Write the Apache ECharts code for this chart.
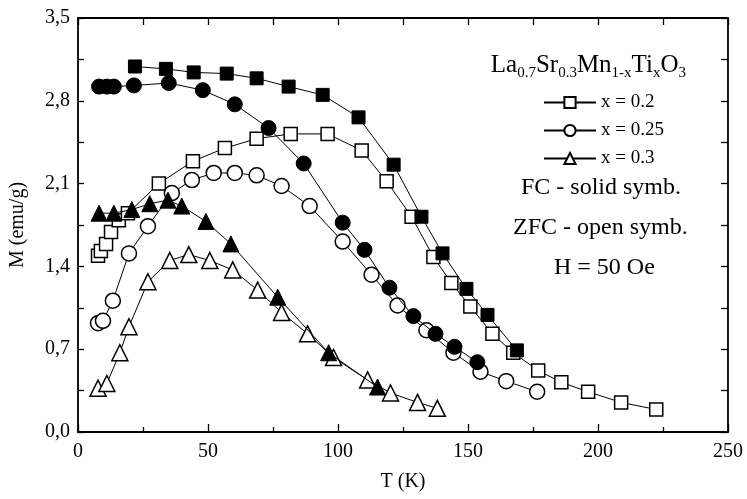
<!DOCTYPE html>
<html>
<head>
<meta charset="utf-8">
<script src="https://cdn.jsdelivr.net/npm/echarts@6/dist/echarts.min.js"></script>
<style>
  html, body { margin: 0; padding: 0; background: #fff; }
  #chart { width: 747px; height: 499px; }
</style>
</head>
<body>
<div id="chart"></div>
<script>
// Magnetization M(T) of La0.7Sr0.3Mn1-xTixO3, field-cooled and zero-field-cooled

// x = 0.2, field cooled (solid squares)
const fc02T = [21.9, 33.8, 44.5, 57.2, 68.7, 81.0, 94.1, 107.9, 121.4, 132.1, 140.2, 149.4, 157.5, 168.8];
const fc02M = [3.09, 3.07, 3.04, 3.03, 2.99, 2.92, 2.85, 2.66, 2.26, 1.82, 1.51, 1.21, 0.99, 0.69];
// x = 0.2, zero-field cooled (open squares)
const zfc02T = [7.7, 8.8, 10.8, 12.7, 15.7, 19.2, 31.1, 44.2, 56.5, 68.7, 81.8, 96.0, 109.1, 118.7, 128.3, 136.7, 143.6, 150.9, 159.4, 167.4, 177.0, 185.9, 196.2, 208.9, 222.4];
const zfc02M = [1.49, 1.53, 1.59, 1.69, 1.79, 1.85, 2.10, 2.29, 2.40, 2.48, 2.52, 2.52, 2.38, 2.12, 1.82, 1.48, 1.26, 1.06, 0.83, 0.67, 0.52, 0.42, 0.34, 0.25, 0.19];

// x = 0.25, field cooled (solid circles)
const fc025T = [8.1, 11.1, 13.8, 21.5, 34.9, 48.0, 60.3, 73.3, 86.8, 101.8, 110.2, 119.8, 129.0, 137.5, 144.8, 153.6];
const fc025M = [2.92, 2.92, 2.92, 2.93, 2.95, 2.89, 2.77, 2.57, 2.27, 1.77, 1.54, 1.22, 0.98, 0.83, 0.72, 0.59];
// x = 0.25, zero-field cooled (open circles)
const zfc025T = [7.7, 9.6, 13.4, 19.6, 26.9, 36.1, 43.8, 52.2, 60.3, 68.7, 78.3, 89.1, 101.8, 112.9, 122.9, 134.0, 144.4, 154.8, 164.7, 176.6];
const zfc025M = [0.92, 0.94, 1.11, 1.51, 1.74, 2.02, 2.13, 2.19, 2.19, 2.17, 2.08, 1.91, 1.61, 1.33, 1.07, 0.86, 0.67, 0.51, 0.43, 0.34];

// x = 0.3, field cooled (solid triangles)
const fc03T = [8.1, 13.8, 20.7, 27.6, 34.6, 39.9, 49.2, 58.8, 76.8, 96.4, 115.2];
const fc03M = [1.85, 1.85, 1.88, 1.93, 1.96, 1.91, 1.78, 1.59, 1.14, 0.67, 0.38];
// x = 0.3, zero-field cooled (open triangles)
const zfc03T = [7.7, 11.1, 16.1, 19.6, 26.9, 35.3, 42.6, 50.7, 59.5, 69.1, 78.3, 88.3, 98.3, 111.4, 120.2, 130.6, 138.2];
const zfc03M = [0.37, 0.41, 0.67, 0.89, 1.27, 1.45, 1.50, 1.45, 1.37, 1.20, 1.01, 0.83, 0.63, 0.44, 0.33, 0.25, 0.20];

// axis ranges
const tMin = 0, tMax = 250, tStep = 50;
const mMin = 0, mMax = 3.5, mStep = 0.7;

const zip = (xs, ys) => xs.map((x, i) => [x, ys[i]]);

const FONT = 'Liberation Serif';
const INK = '#000';

function curve(name, T, M, shape, filled, size) {
  return {
    name: name,
    type: 'line',
    data: zip(T, M),
    symbol: shape,
    symbolSize: size,
    showSymbol: true,
    lineStyle: { color: INK, width: 1 },
    itemStyle: filled
      ? { color: INK, borderColor: INK, borderWidth: 1 }
      : { color: '#fff', borderColor: INK, borderWidth: 1.5 },
    emphasis: { disabled: true },
    z: filled ? 3 : 2
  };
}

const commaFmt = v => (Math.round(v * 10) / 10).toFixed(1).replace('.', ',');

const axisLine = { show: true, onZero: false, lineStyle: { color: INK, width: 1.8 } };

const chart = echarts.init(document.getElementById('chart'), null, { renderer: 'canvas' });

chart.setOption({
  animation: false,
  backgroundColor: '#fff',
  grid: { left: 77, right: 19, top: 18, bottom: 67, containLabel: false },
  title: {
    text: '{n|La}{s|0.7}{n|Sr}{s|0.3}{n|Mn}{s|1-x}{n|Ti}{s|x}{n|O}{s|3}',
    right: 56,
    top: 44,
    textStyle: {
      fontWeight: 'normal',
      rich: {
        n: { fontFamily: FONT, fontSize: 25, fontWeight: 'normal', color: INK, lineHeight: 32, verticalAlign: 'middle' },
        s: { fontFamily: FONT, fontSize: 15, fontWeight: 'normal', color: INK, lineHeight: 32, verticalAlign: 'bottom' }
      }
    }
  },
  legend: {
    data: ['x = 0.2', 'x = 0.25', 'x = 0.3'],
    orient: 'vertical',
    left: 538,
    top: 88,
    itemWidth: 52,
    itemHeight: 14,
    itemGap: 9,
    selectedMode: false,
    textStyle: { fontFamily: FONT, fontSize: 19, color: INK }
  },
  graphic: [
    { type: 'text', left: 521, top: 176, style: { text: 'FC - solid symb.', font: '24px "Liberation Serif"', fill: INK } },
    { type: 'text', left: 513, top: 216, style: { text: 'ZFC - open symb.', font: '24px "Liberation Serif"', fill: INK } },
    { type: 'text', left: 554, top: 256, style: { text: 'H = 50 Oe', font: '24px "Liberation Serif"', fill: INK } }
  ],
  xAxis: [
    {
      type: 'value', min: tMin, max: tMax, interval: tStep,
      name: 'T (K)', nameLocation: 'middle', nameGap: 40,
      nameTextStyle: { fontFamily: FONT, fontSize: 20, color: INK },
      axisLine: axisLine,
      axisTick: { show: true, inside: true, length: 8, lineStyle: { color: INK, width: 1.3 } },
      minorTick: { show: true, splitNumber: 2, length: 5, lineStyle: { color: INK, width: 1.3 } },
      axisLabel: { fontFamily: FONT, fontSize: 20, color: INK, margin: 10 },
      splitLine: { show: false }
    },
    {
      type: 'value', min: tMin, max: tMax, interval: tStep, position: 'top',
      axisLine: axisLine,
      axisTick: { show: true, inside: true, length: 7, lineStyle: { color: INK, width: 1.3 } },
      minorTick: { show: true, splitNumber: 2, length: 7, lineStyle: { color: INK, width: 1.3 } },
      axisLabel: { show: false },
      splitLine: { show: false }
    }
  ],
  yAxis: [
    {
      type: 'value', min: mMin, max: mMax, interval: mStep,
      name: 'M (emu/g)', nameLocation: 'middle', nameGap: 50, nameRotate: 90,
      nameTextStyle: { fontFamily: FONT, fontSize: 20, color: INK },
      axisLine: axisLine,
      axisTick: { show: true, inside: true, length: 6, lineStyle: { color: INK, width: 1.3 } },
      minorTick: { show: true, splitNumber: 2, length: 6, lineStyle: { color: INK, width: 1.3 } },
      axisLabel: { fontFamily: FONT, fontSize: 20, color: INK, margin: 8, formatter: commaFmt },
      splitLine: { show: false }
    },
    {
      type: 'value', min: mMin, max: mMax, interval: mStep, position: 'right',
      axisLine: axisLine,
      axisTick: { show: true, inside: true, length: 7, lineStyle: { color: INK, width: 1.3 } },
      minorTick: { show: true, splitNumber: 2, length: 7, lineStyle: { color: INK, width: 1.3 } },
      axisLabel: { show: false },
      splitLine: { show: false }
    }
  ],
  series: [
    curve('x = 0.2', zfc02T, zfc02M, 'rect', false, 13),
    curve('x = 0.25', zfc025T, zfc025M, 'circle', false, 15),
    curve('x = 0.3', zfc03T, zfc03M, 'triangle', false, 16),
    curve('x = 0.2 FC', fc02T, fc02M, 'rect', true, 13),
    curve('x = 0.25 FC', fc025T, fc025M, 'circle', true, 15),
    curve('x = 0.3 FC', fc03T, fc03M, 'triangle', true, 16)
  ]
});
</script>
</body>
</html>
